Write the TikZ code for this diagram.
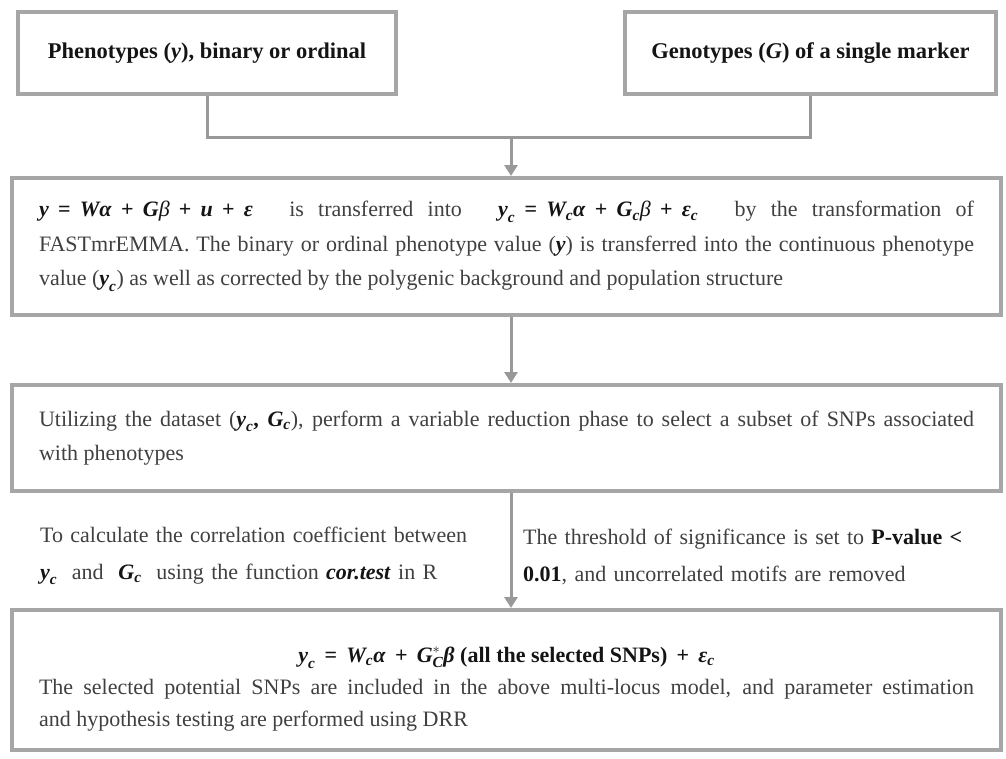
\documentclass[tikz,border=0pt]{standalone}
\usepackage{amsmath}
\usepackage{fontspec}
\setmainfont{Liberation Serif}
\usetikzlibrary{arrows.meta,positioning}
\definecolor{frame}{HTML}{A6A6A6}
\definecolor{wire}{HTML}{999999}
\definecolor{body}{HTML}{404040}
\definecolor{ink}{HTML}{141414}
\newcommand{\sbs}[2]{$\textit{#1}_{\textit{#2}}$}
\newcommand{\mop}[1]{\hspace{0.42em}#1\hspace{0.42em}}

\begin{document}
\begin{tikzpicture}[x=1pt,y=1pt,
    every node/.style={font=\fontsize{22}{34.5}\selectfont,text=body},
    inputbox/.style={draw=frame,line width=4pt,minimum height=82pt,
        font=\fontsize{22.5}{26}\selectfont\bfseries,text=ink},
    stagebox/.style={draw=frame,line width=4pt,minimum width=989pt,
        inner xsep=27pt,text width=935pt,align=justify},
    sidenote/.style={anchor=west,inner sep=0pt,text width=460pt,align=left,
        font=\fontsize{22}{37}\selectfont},
    link/.style={wire,line width=3pt,line join=miter},
    tip/.style={-{Triangle[width=13pt,length=11pt]}}]
  \useasboundingbox (0,0) rectangle (1006,-758);
  \node[inputbox,minimum width=378pt] (pheno) at (207,-53)
      {Phenotypes (\textit{y}), binary or ordinal};
  \node[inputbox,minimum width=371pt] (geno) at (810.5,-53)
      {Genotypes (\textit{G}) of a single marker};
  \node[stagebox,minimum height=137pt] (trans) at (506.5,-246.5)
      {\mbox{\color{ink}\textbf{\textit{y}\mop{=}\textit{Wα}\mop{+}\textit{G}\textmd{\textit{β}}\mop{+}\textit{u}\mop{+}\textit{ε}}}\quad\ is
       transferred into\quad\ \mbox{\color{ink}\textbf{\sbs{y}{c}\mop{=}\sbs{W}{c}\textit{α}\mop{+}\sbs{G}{c}\textmd{\textit{β}}\mop{+}\sbs{ε}{c}}}\quad\ by
       the transformation of\linebreak FASTmrEMMA. The binary or ordinal phenotype value
       ({\color{ink}\textbf{\textit{y}}}) is transferred into the continuous phenotype\linebreak value
       ({\color{ink}\textbf{\sbs{y}{c}}}) as well as corrected by the polygenic background and population structure};
  \node[stagebox,minimum height=106pt] (reduce) at (506.5,-438)
      {Utilizing the dataset ({\color{ink}\textbf{\sbs{y}{c}, \sbs{G}{c}}}), perform a variable reduction
       phase to select a subset of SNPs associated\linebreak with phenotypes};
  \node[stagebox,minimum height=140pt,font=\fontsize{22}{32}\selectfont] (model) at (506.5,-680)
      {\makebox[\hsize]{\rule{0pt}{34pt}\color{ink}\textbf{\sbs{y}{c}\mop{=}\sbs{W}{c}\textit{α}\mop{+}$\textit{G}^{*}_{\textit{C}}$\textit{β} (all the selected SNPs)\mop{+}\sbs{ε}{c}}}\par
       The selected potential SNPs are included in the above multi-locus model, and parameter
       estimation\linebreak and hypothesis testing are performed using DRR};
  \node[sidenote] (corr) at (40,-556)
      {To calculate the correlation coefficient between\\
       {\color{ink}\textbf{\sbs{y}{c}}}~ and~ {\color{ink}\textbf{\sbs{G}{c}}}~ using the function
       {\color{ink}\textbf{\textit{cor.test}}} in R};
  \node[sidenote] (thres) at (523,-557)
      {The threshold of significance is set to {\color{ink}\textbf{P-value <}}\\
       {\color{ink}\textbf{0.01}}, and uncorrelated motifs are removed};
  % connectors
  \coordinate (merge) at (511,-137);
  \draw[link] (pheno.south) |- (merge) -| (geno.south);
  \draw[link,tip] (merge) -- (trans.north -| merge);
  \draw[link,tip] (trans.south -| merge) -- (reduce.north -| merge);
  \draw[link,tip] (reduce.south -| merge) -- (model.north -| merge);
\end{tikzpicture}
\end{document}
